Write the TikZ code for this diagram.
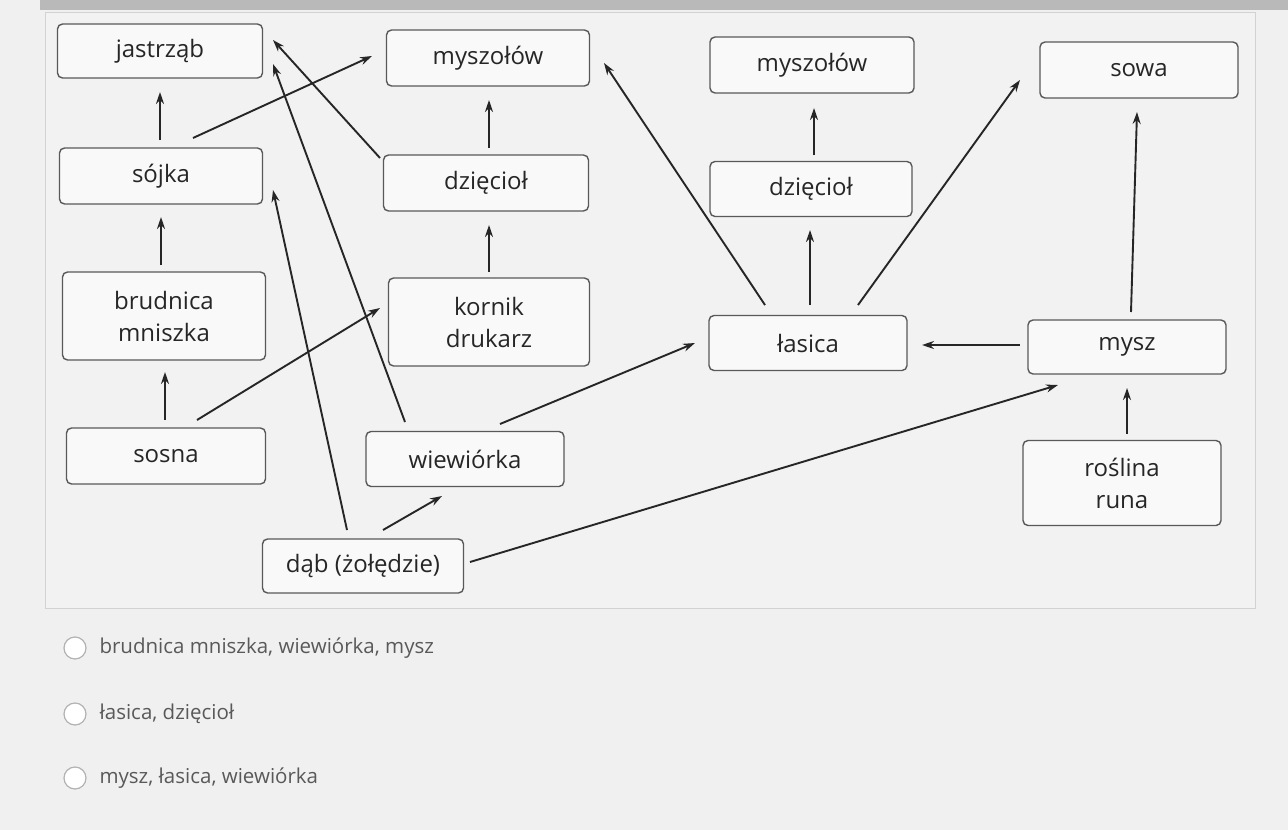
\documentclass[tikz,border=0pt]{standalone}
\usepackage{fontspec}
\setmainfont{Open Sans}
\usetikzlibrary{arrows.meta}
\begin{document}
\begin{tikzpicture}[x=1pt,y=-1pt,
  box/.style={draw=black!65,line width=1.4pt,rounded corners=5pt,fill=white!95!gray,align=center,font=\fontsize{24}{32}\selectfont,text=black!85,inner sep=0pt},
  arr/.style={-{Stealth[length=12pt,width=8pt]},line width=1.9pt,black!85},
  opt/.style={anchor=west,font=\fontsize{20.5}{24}\selectfont,text=black!65}]
\useasboundingbox (0,0) rectangle (1288,830);
\fill[gray!12] (0,0) rectangle (1288,830);
\fill[gray!55] (40,0) rectangle (1288,10);
\draw[gray!35,line width=1pt,fill=white!90!gray] (45,12) rectangle (1255,608);
\node[box,minimum width=205,minimum height=54] (jas) at (160,51) {jastrząb};
\node[box,minimum width=203,minimum height=56] (my1) at (488,58) {myszołów};
\node[box,minimum width=204,minimum height=56] (my2) at (812,65) {myszołów};
\node[box,minimum width=198,minimum height=56] (sow) at (1139,70) {sowa};
\node[box,minimum width=203,minimum height=56] (soj) at (161,176) {sójka};
\node[box,minimum width=205,minimum height=56] (dz1) at (486,183) {dzięcioł};
\node[box,minimum width=202,minimum height=55] (dz2) at (811,189) {dzięcioł};
\node[box,minimum width=203,minimum height=88] (bru) at (164,316) {brudnica\\mniszka};
\node[box,minimum width=201,minimum height=88] (kor) at (489,322) {kornik\\drukarz};
\node[box,minimum width=198,minimum height=55] (las) at (808,343) {łasica};
\node[box,minimum width=198,minimum height=54] (mys) at (1127,347) {mysz};
\node[box,minimum width=199,minimum height=56] (sos) at (166,456) {sosna};
\node[box,minimum width=198,minimum height=55] (wie) at (465,459) {wiewiórka};
\node[box,minimum width=198,minimum height=85] (ros) at (1122,483) {roślina\\runa};
\node[box,minimum width=201,minimum height=54] (dab) at (363,566) {dąb (żołędzie)};
\foreach \n/\x/\y in {a1/160/140,a2/160/92,b1/161/265,b2/161/217,c1/165/420,c2/165/372,
 d1/193/138,d2/372/56,e1/380/158,e2/273/40,f1/405/422,f2/273/64,g1/347/530,g2/273/190,
 h1/197/420,h2/380/308,i1/383/530,i2/442/496,j1/470/562,j2/1058/385,k1/500/424,k2/695/343,
 l1/489/272,l2/489/225,m1/489/148,m2/489/100,n1/765/305,n2/604/63,o1/810/305,o2/810/230,
 p1/814/155,p2/814/108,q1/858/305,q2/1020/80,r1/1020/345,r2/922/345,s1/1131/312,s2/1137/112,
 t1/1127/434,t2/1127/388}
 \coordinate (\n) at (\x,\y);
\foreach \s in {a,b,c,d,e,f,g,h,i,j,k,l,m,n,o,p,q,r,s,t}
 \draw[arr] (\s1) -- (\s2);
\foreach \y/\t [count=\i] in {648/{brudnica mniszka, wiewiórka, mysz},714/{łasica, dzięcioł},778/{mysz, łasica, wiewiórka}}{
 \draw[gray!60,line width=1.2pt,fill=white] (75,\y) circle (11);
 \node[opt] (o\i) at (96,\y) {\t};}
\end{tikzpicture}
\end{document}
